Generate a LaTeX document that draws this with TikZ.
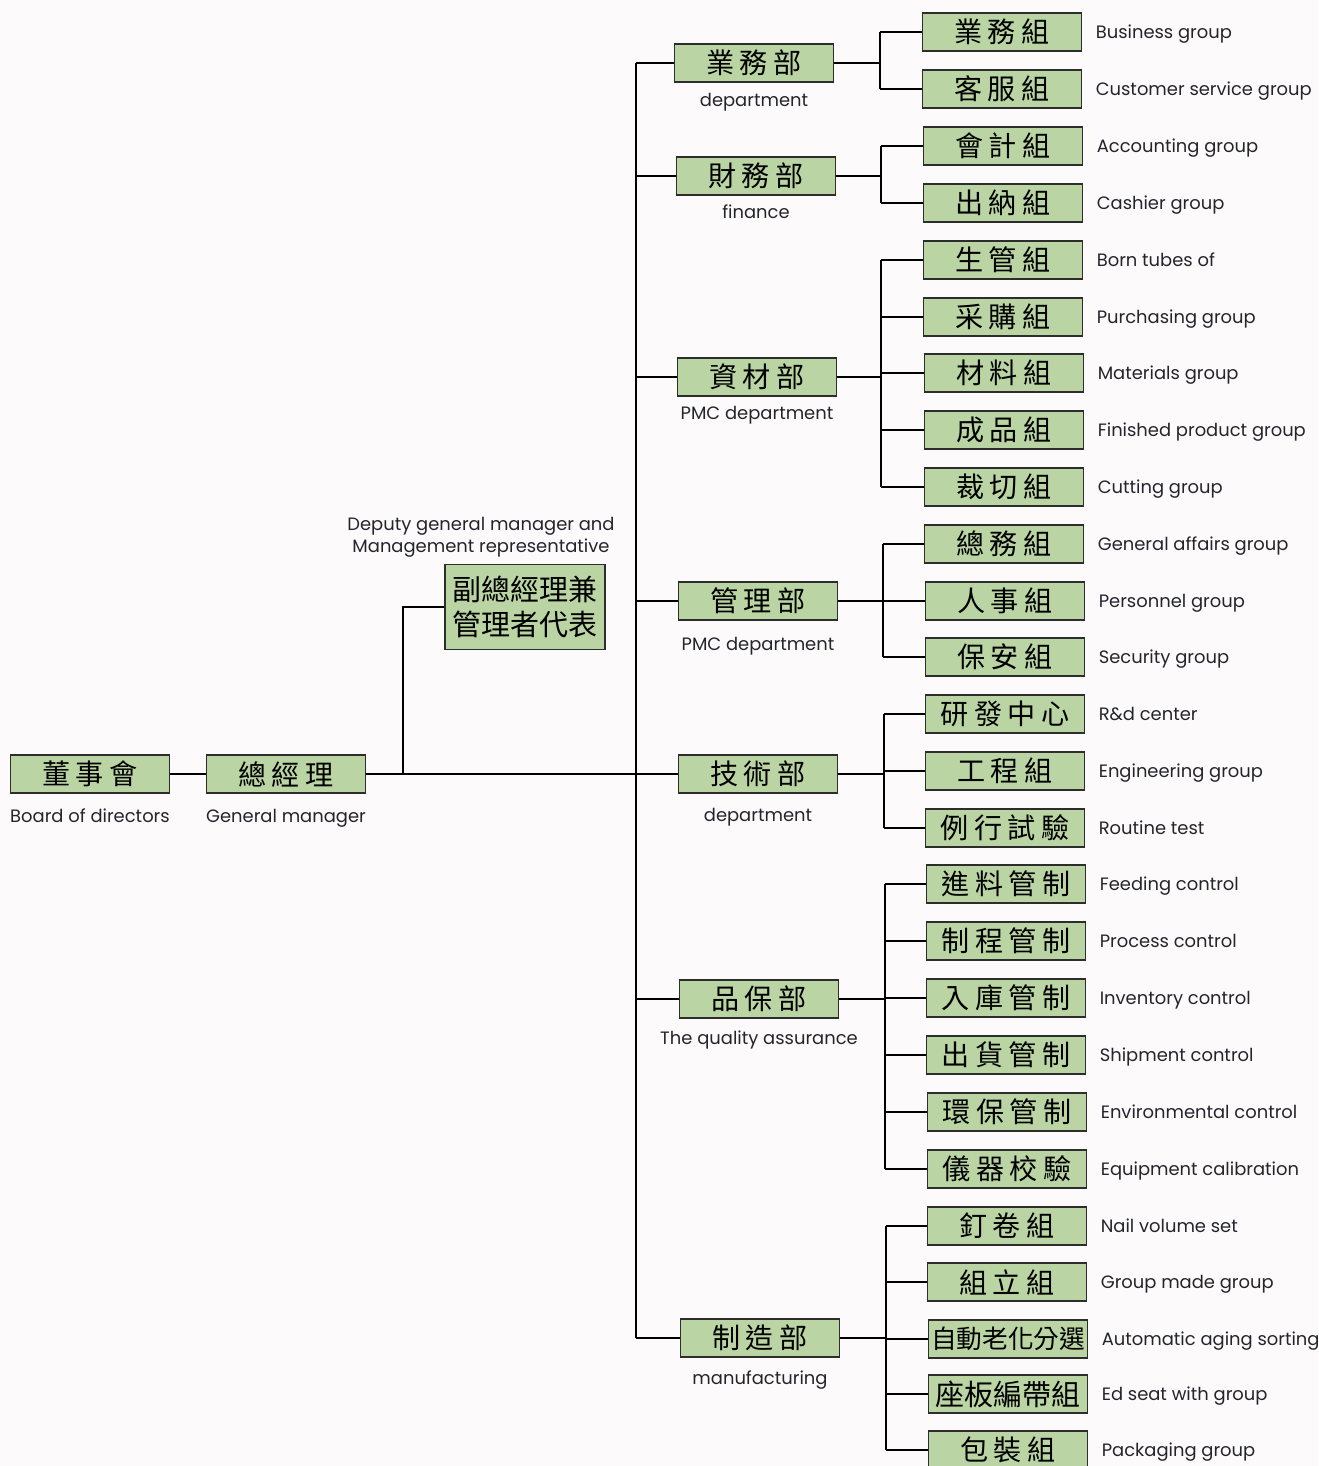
\documentclass[tikz,border=0pt]{standalone}
\usepackage{fontspec}
\setmainfont{Poppins}
\newfontfamily\cjk[LetterSpace=20]{Noto Sans CJK TC}
\newfontfamily\cjktight{Noto Sans CJK TC}
\usetikzlibrary{positioning}
\definecolor{boxgreen}{RGB}{186,213,163}
\definecolor{boxline}{RGB}{45,45,45}
\definecolor{txtgray}{RGB}{36,36,44}
\definecolor{paper}{RGB}{252,250,250}

\begin{document}
\begin{tikzpicture}[x=0.02cm,y=-0.02cm,
    unit/.style={draw=boxline, line width=1.1pt, fill=boxgreen, minimum width=3.18cm,
      minimum height=0.76cm, inner sep=0pt, font=\cjk\fontsize{16}{16}\selectfont},
    wide/.style={unit, font=\cjktight\fontsize{16.5}{16.5}\selectfont},
    wider/.style={unit, font=\cjktight\fontsize{14.6}{14.6}\selectfont},
    engtxt/.style={inner sep=0pt, text height=7pt, text depth=2pt, text=txtgray,
      font=\fontsize{10.2}{11}\selectfont},
    grptxt/.style={engtxt, right=0.26cm of #1, yshift=-1.4pt},
    link/.style={draw=black, line width=1.5pt}]

        \path[use as bounding box, fill=paper] (0,0) rectangle (1318,1466);

        % Nodes for the top
        \node[unit] (board) at (90,774) {董事會};
        \node[unit] (gm) at (286,774) {總經理};
        \node[engtxt, below=0.32cm of board] (boardtxt) {Board of directors};
        \node[engtxt, below=0.32cm of gm] (gmtxt) {General manager};

        \node[unit, minimum width=3.2cm, minimum height=1.7cm, align=center,
          font=\cjktight\fontsize{16.5}{20.4}\selectfont] (vice) at (525,607) {副總經理兼\\管理者代表};
        \node[engtxt, align=center, font=\fontsize{10.2}{12.5}\selectfont] (vicetxt) at (481,548)
          {Deputy general manager and\\Management representative};

        % Nodes for departments
        \node[unit] (d1) at (754,63) {業務部};
        \node[unit] (d2) at (756,176) {財務部};
        \node[unit] (d3) at (757,377) {資材部};
        \node[unit] (d4) at (758,601) {管理部};
        \node[unit] (d5) at (758,774) {技術部};
        \node[unit] (d6) at (759,999) {品保部};
        \node[unit] (d7) at (760,1338) {制造部};

        \node[engtxt, below=0.22cm of d1] (d1txt) {department};
        \node[engtxt, below=0.2cm of d2] (d2txt) {finance};
        \node[engtxt, below=0.2cm of d3] (d3txt) {PMC department};
        \node[engtxt, below=0.34cm of d4] (d4txt) {PMC department};
        \node[engtxt, below=0.30cm of d5] (d5txt) {department};
        \node[engtxt, below=0.26cm of d6] (d6txt) {The quality assurance};
        \node[engtxt, below=0.28cm of d7] (d7txt) {manufacturing};

        % Nodes for groups
        \node[unit] (g0) at (1002,32) {業務組};
        \node[unit] (g1) at (1002,89) {客服組};
        \node[unit] (g2) at (1003,146) {會計組};
        \node[unit] (g3) at (1003,203) {出納組};
        \node[unit] (g4) at (1003,260) {生管組};
        \node[unit] (g5) at (1003,317) {采購組};
        \node[unit] (g6) at (1004,373) {材料組};
        \node[unit] (g7) at (1004,430) {成品組};
        \node[unit] (g8) at (1004,487) {裁切組};
        \node[unit] (g9) at (1004,544) {總務組};
        \node[unit] (g10) at (1005,601) {人事組};
        \node[unit] (g11) at (1005,657) {保安組};
        \node[unit] (g12) at (1005,714) {研發中心};
        \node[unit] (g13) at (1005,771) {工程組};
        \node[unit] (g14) at (1005,828) {例行試驗};
        \node[unit] (g15) at (1006,884) {進料管制};
        \node[unit] (g16) at (1006,941) {制程管制};
        \node[unit] (g17) at (1006,998) {入庫管制};
        \node[unit] (g18) at (1006,1055) {出貨管制};
        \node[unit] (g19) at (1007,1112) {環保管制};
        \node[unit] (g20) at (1007,1169) {儀器校驗};
        \node[unit] (g21) at (1007,1226) {釘卷組};
        \node[unit] (g22) at (1007,1282) {組立組};
        \node[wider] (g23) at (1008,1339) {自動老化分選};
        \node[wide] (g24) at (1008,1394) {座板編帶組};
        \node[unit] (g25) at (1008,1450) {包裝組};

        \node[grptxt=g0] (t0) {Business group};
        \node[grptxt=g1] (t1) {Customer service group};
        \node[grptxt=g2] (t2) {Accounting group};
        \node[grptxt=g3] (t3) {Cashier group};
        \node[grptxt=g4] (t4) {Born tubes of};
        \node[grptxt=g5] (t5) {Purchasing group};
        \node[grptxt=g6] (t6) {Materials group};
        \node[grptxt=g7] (t7) {Finished product group};
        \node[grptxt=g8] (t8) {Cutting group};
        \node[grptxt=g9] (t9) {General affairs group};
        \node[grptxt=g10] (t10) {Personnel group};
        \node[grptxt=g11] (t11) {Security group};
        \node[grptxt=g12] (t12) {R\&d center};
        \node[grptxt=g13] (t13) {Engineering group};
        \node[grptxt=g14] (t14) {Routine test};
        \node[grptxt=g15] (t15) {Feeding control};
        \node[grptxt=g16] (t16) {Process control};
        \node[grptxt=g17] (t17) {Inventory control};
        \node[grptxt=g18] (t18) {Shipment control};
        \node[grptxt=g19] (t19) {Environmental control};
        \node[grptxt=g20] (t20) {Equipment calibration};
        \node[grptxt=g21] (t21) {Nail volume set};
        \node[grptxt=g22] (t22) {Group made group};
        \node[grptxt=g23] (t23) {Automatic aging sorting};
        \node[grptxt=g24] (t24) {Ed seat with group};
        \node[grptxt=g25] (t25) {Packaging group};

        % Junction points
        \coordinate (vb) at (403,774);
        \coordinate (tr) at (636,774);
        \coordinate (j1) at (880,63);
        \coordinate (j2) at (881,176);
        \coordinate (j3) at (881,377);
        \coordinate (j4) at (883,601);
        \coordinate (j5) at (884,774);
        \coordinate (j6) at (885,999);
        \coordinate (j7) at (886,1338);

        % Top edges
        \draw[link] (board) -- (gm);
        \draw[link] (gm) -- (tr);
        \draw[link] (vb) |- (vice.west);
        \draw[link] (tr |- d1) -- (tr |- d7);
        \draw[link] (tr |- d1) -- (d1);
        \draw[link] (tr |- d2) -- (d2);
        \draw[link] (tr |- d3) -- (d3);
        \draw[link] (tr |- d4) -- (d4);
        \draw[link] (tr) -- (d5);
        \draw[link] (tr |- d6) -- (d6);
        \draw[link] (tr |- d7) -- (d7);

        % Department edges
        \draw[link] (d1) -- (j1);
        \draw[link] (j1 |- g0) -- (j1 |- g1);
        \draw[link] (j1 |- g0) -- (g0);
        \draw[link] (j1 |- g1) -- (g1);

        \draw[link] (d2) -- (j2);
        \draw[link] (j2 |- g2) -- (j2 |- g3);
        \draw[link] (j2 |- g2) -- (g2);
        \draw[link] (j2 |- g3) -- (g3);

        \draw[link] (d3) -- (j3);
        \draw[link] (j3 |- g4) -- (j3 |- g8);
        \draw[link] (j3 |- g4) -- (g4);
        \draw[link] (j3 |- g5) -- (g5);
        \draw[link] (j3 |- g6) -- (g6);
        \draw[link] (j3 |- g7) -- (g7);
        \draw[link] (j3 |- g8) -- (g8);

        \draw[link] (d4) -- (j4);
        \draw[link] (j4 |- g9) -- (j4 |- g11);
        \draw[link] (j4 |- g9) -- (g9);
        \draw[link] (j4 |- g10) -- (g10);
        \draw[link] (j4 |- g11) -- (g11);

        \draw[link] (d5) -- (j5);
        \draw[link] (j5 |- g12) -- (j5 |- g14);
        \draw[link] (j5 |- g12) -- (g12);
        \draw[link] (j5 |- g13) -- (g13);
        \draw[link] (j5 |- g14) -- (g14);

        \draw[link] (d6) -- (j6);
        \draw[link] (j6 |- g15) -- (j6 |- g20);
        \draw[link] (j6 |- g15) -- (g15);
        \draw[link] (j6 |- g16) -- (g16);
        \draw[link] (j6 |- g17) -- (g17);
        \draw[link] (j6 |- g18) -- (g18);
        \draw[link] (j6 |- g19) -- (g19);
        \draw[link] (j6 |- g20) -- (g20);

        \draw[link] (d7) -- (j7);
        \draw[link] (j7 |- g21) -- (j7 |- g25);
        \draw[link] (j7 |- g21) -- (g21);
        \draw[link] (j7 |- g22) -- (g22);
        \draw[link] (j7 |- g23) -- (g23);
        \draw[link] (j7 |- g24) -- (g24);
        \draw[link] (j7 |- g25) -- (g25);

\end{tikzpicture}
\end{document}
